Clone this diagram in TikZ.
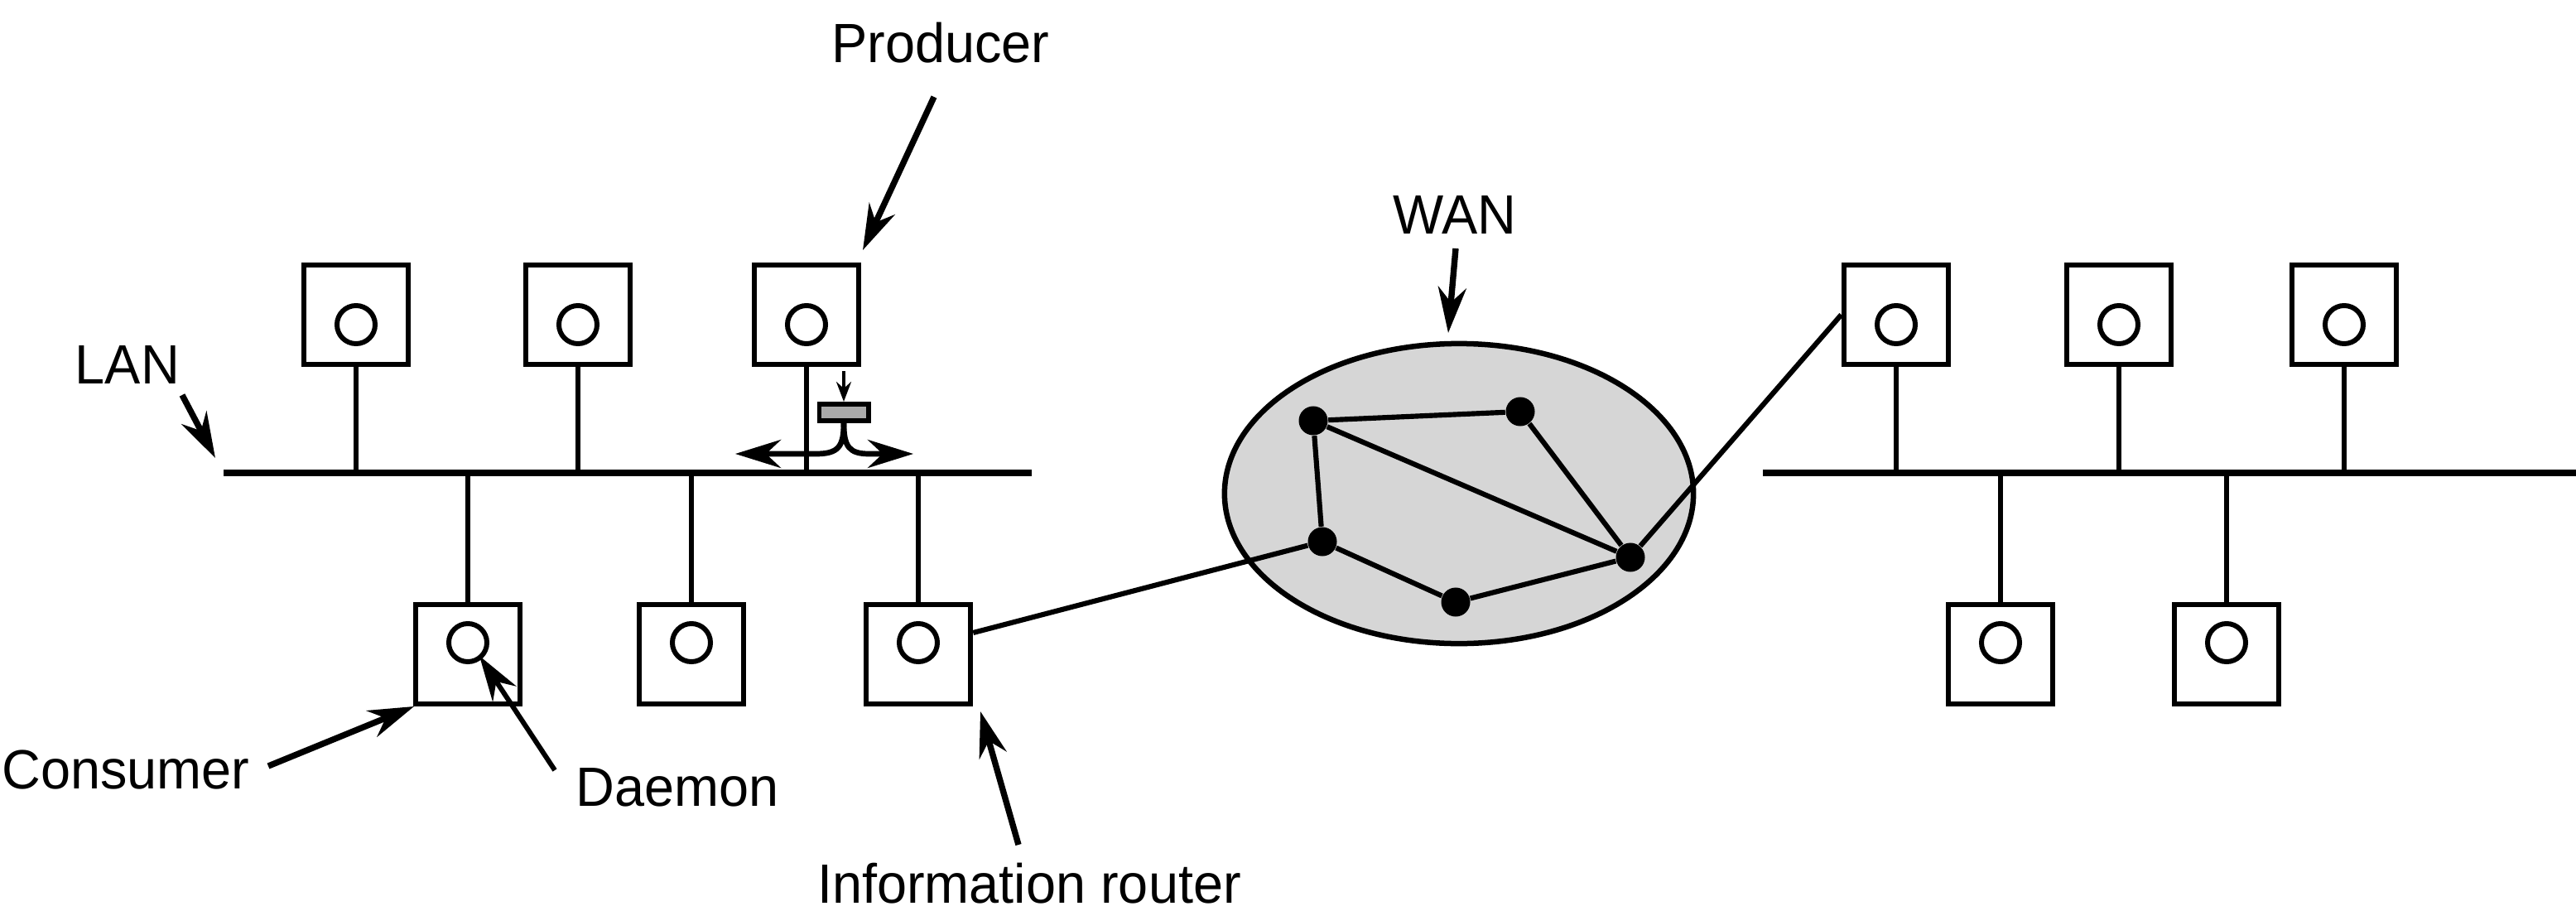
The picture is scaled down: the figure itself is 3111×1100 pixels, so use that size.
\documentclass[tikz,border=0pt]{standalone}
\usepackage{fontspec}
\setmainfont{Liberation Sans}[FakeStretch=0.97]
\usetikzlibrary{arrows.meta,shapes.geometric}
\definecolor{wanfill}{HTML}{D6D6D6}
\definecolor{msgfill}{HTML}{AAAAAA}
\begin{document}
\begin{tikzpicture}[x=0.01cm,y=-0.01cm,
  host/.style={draw, line width=1.85pt, minimum width=1.26cm, minimum height=1.20cm, inner sep=0pt, fill=white},
  daemon/.style={draw, circle, line width=1.7pt, minimum size=0.46cm, inner sep=0pt},
  bus/.style={line width=2.1pt},
  stem/.style={line width=1.85pt},
  link/.style={line width=1.75pt},
  router/.style={circle, fill=black, minimum size=0.35cm, inner sep=0pt},
  lbl/.style={anchor=base, inner sep=0pt, font=\fontsize{19pt}{23pt}\selectfont},
  callout/.style={line width=2.1pt, -{Stealth[length=5.5mm,width=3.4mm,inset=1.8mm]}},
  flow/.style={line width=1.9pt, -{Stealth[length=5.5mm,width=3.4mm,inset=1.8mm]}},
  smallflow/.style={line width=1pt, -{Stealth[length=2.4mm,width=1.8mm,inset=0.8mm]}},
]
\useasboundingbox (0,0) rectangle (3111,1100);

% ---------- WAN cloud ----------
\node[ellipse, draw, fill=wanfill, line width=1.85pt, minimum width=5.66cm, minimum height=3.62cm, inner sep=0pt] (wan) at (1762,596) {};

% ---------- LAN buses ----------
\coordinate (lanLw) at (270,571);
\coordinate (lanLe) at (1246,571);
\coordinate (lanRw) at (2129,571);
\coordinate (lanRe) at (3111,571);
\draw[bus] (lanLw) -- (lanLe);
\draw[bus] (lanRw) -- (lanRe);

% ---------- left LAN hosts ----------
\node[host] (t1) at (430,380) {};
\node[host] (t2) at (698,380) {};
\node[host] (t3) at (974,380) {};
\node[host] (b1) at (565,790) {};
\node[host] (b2) at (835,790) {};
\node[host] (b3) at (1109,790) {};
\node[daemon] (dt1) at (430,392) {};
\node[daemon] (dt2) at (698,392) {};
\node[daemon] (dt3) at (974,392) {};
\node[daemon] (db1) at (565,776) {};
\node[daemon] (db2) at (835,776) {};
\node[daemon] (db3) at (1109,776) {};
\foreach \h in {t1,t2,t3}{\draw[stem] (\h.south) -- (\h.south |- lanLw);}
\foreach \h in {b1,b2,b3}{\draw[stem] (\h.north) -- (\h.north |- lanLw);}

% ---------- right LAN hosts ----------
\node[host] (r1) at (2290,380) {};
\node[host] (r2) at (2559,380) {};
\node[host] (r3) at (2831,380) {};
\node[host] (s1) at (2416,790) {};
\node[host] (s2) at (2689,790) {};
\node[daemon] (dr1) at (2290,392) {};
\node[daemon] (dr2) at (2559,392) {};
\node[daemon] (dr3) at (2831,392) {};
\node[daemon] (ds1) at (2416,776) {};
\node[daemon] (ds2) at (2689,776) {};
\foreach \h in {r1,r2,r3}{\draw[stem] (\h.south) -- (\h.south |- lanRw);}
\foreach \h in {s1,s2}{\draw[stem] (\h.north) -- (\h.north |- lanRw);}

% ---------- published message ----------
\node[draw, fill=msgfill, line width=1.7pt, minimum width=0.59cm, minimum height=0.20cm, inner sep=0pt] (gr) at (1019,498) {};
\coordinate (msgsrc) at (1019,448);
\coordinate (lt) at (888,548);
\coordinate (rt) at (1103,548);
\draw[smallflow] (msgsrc) -- (gr.north);
\draw[flow] (gr.south) .. controls (1019,540) and (1012,548) .. (985,548) -- (lt);
\draw[flow] (gr.south) .. controls (1019,540) and (1026,548) .. (1050,548) -- (rt);

% ---------- WAN routers ----------
\node[router] (n1) at (1586,508) {};
\node[router] (n2) at (1836,497) {};
\node[router] (n3) at (1597,654) {};
\node[router] (n4) at (1758,727) {};
\node[router] (n5) at (1969,673) {};
\draw[link] (n1) -- (n2);
\draw[link] (n1) -- (n5);
\draw[link] (n1) -- (n3);
\draw[link] (n2) -- (n5);
\draw[link] (n3) -- (n4);
\draw[link] (n4) -- (n5);
\draw[link] ([yshift=0.26cm]b3.east) -- (n3);
\draw[link] (n5) -- (r1.west);

% ---------- labels ----------
\node[lbl] (lprod) at (1136,75) {Producer};
\node[lbl] (llan) at (154,463) {LAN};
\node[lbl] (lwan) at (1757,282) {WAN};
\node[lbl] (lcons) at (152,952) {Consumer};
\node[lbl] (ldaem) at (818,973) {Daemon};
\node[lbl] (linfo) at (1243,1090) {Information router};

% ---------- callout arrows ----------
\coordinate (prodA) at (1128,117);  \coordinate (prodB) at (1042,302);
\coordinate (lanA) at (220,477);    \coordinate (lanB) at (260,553);
\coordinate (wanA) at (1758,300);   \coordinate (wanB) at (1749,402);
\coordinate (consA) at (324,925);   \coordinate (consB) at (500,853);
\coordinate (daemA) at (670,930);   \coordinate (daemB) at (579,792);
\coordinate (infoA) at (1230,1020); \coordinate (infoB) at (1184,859);
\draw[callout] (prodA) -- (prodB);
\draw[callout] (lanA) -- (lanB);
\draw[callout] (wanA) -- (wanB);
\draw[callout] (consA) -- (consB);
\draw[callout, line width=1.7pt] (daemA) -- (daemB);
\draw[callout] (infoA) -- (infoB);
\end{tikzpicture}
\end{document}
